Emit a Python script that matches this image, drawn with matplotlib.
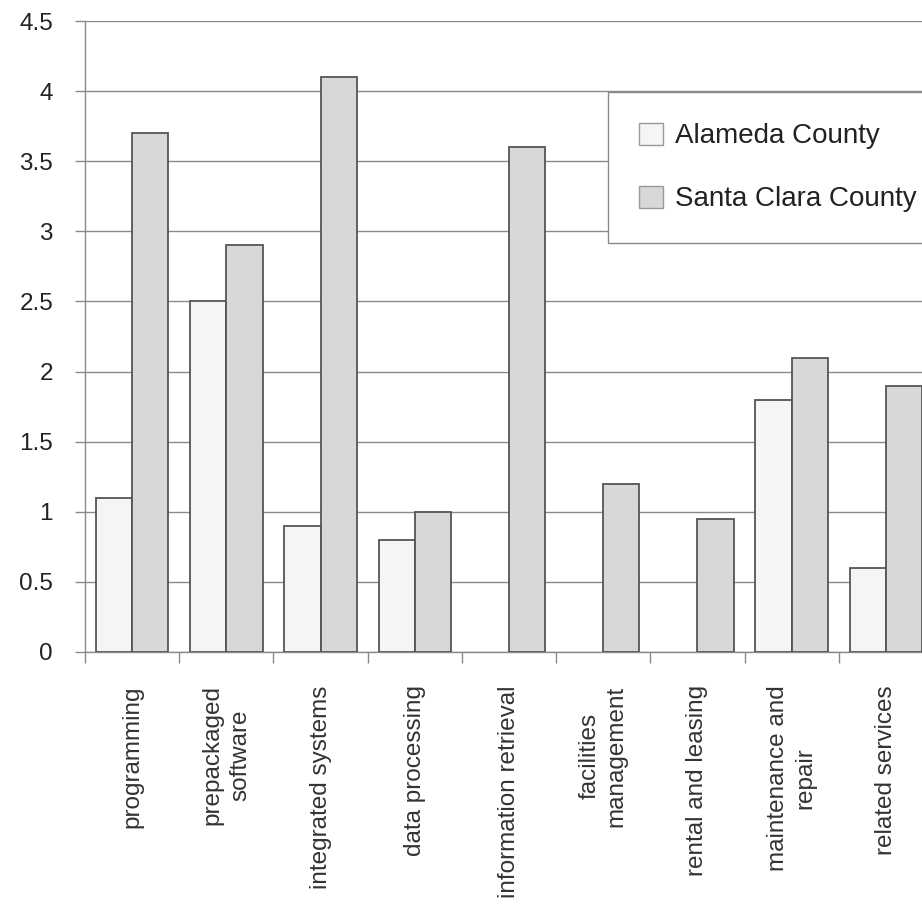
import matplotlib.pyplot as plt
from matplotlib.patches import Patch
import numpy as np

plt.rcParams['font.family'] = ['Liberation Sans', 'DejaVu Sans']

# Computer services employment by category, two counties
categories = ['programming', 'prepackaged\nsoftware', 'integrated systems',
              'data processing', 'information retrieval', 'facilities\nmanagement',
              'rental and leasing', 'maintenance and\nrepair', 'related services']
alameda = [1.1, 2.5, 0.9, 0.8, 0.0, 0.0, 0.0, 1.8, 0.6]
santa_clara = [3.7, 2.9, 4.1, 1.0, 3.6, 1.2, 0.95, 2.1, 1.9]
y_ticks = [0, 0.5, 1, 1.5, 2, 2.5, 3, 3.5, 4, 4.5]
y_tick_labels = ['0', '0.5', '1', '1.5', '2', '2.5', '3', '3.5', '4', '4.5']

W, H = 922, 910
fig = plt.figure(figsize=(W / 100, H / 100), dpi=100)
# plot area runs a little past the right edge of the canvas
ax = fig.add_axes([85 / W, 1 - 652 / H, 848 / W, 631 / H])

x = np.arange(len(categories))
bw = 0.385
edge = '#555555'
b1 = ax.bar(x - bw / 2, alameda, bw, color='#f5f5f5', edgecolor=edge,
            linewidth=1.3, zorder=3, label='Alameda County')
b2 = ax.bar(x + bw / 2, santa_clara, bw, color='#d8d8d8', edgecolor=edge,
            linewidth=1.3, zorder=3, label='Santa Clara County')
# empty categories show no outline along the axis
for bars, vals in ((b1, alameda), (b2, santa_clara)):
    for rect, v in zip(bars, vals):
        if v == 0:
            rect.set_linewidth(0)

ax.set_xlim(-0.5, len(categories) - 0.5)
ax.set_ylim(0, 4.5)

ax.set_yticks(y_ticks)
ax.set_yticklabels(y_tick_labels, fontsize=17.5, color='#222222')
ax.yaxis.grid(True, color='#8a8a8a', linewidth=1.0, zorder=0)
ax.tick_params(axis='y', direction='out', length=7, width=1.0,
               color='#8a8a8a', pad=16)

# category boundaries get tick marks, labels sit at the centres
ax.set_xticks(np.arange(len(categories) + 1) - 0.5)
ax.set_xticklabels([])
ax.tick_params(axis='x', which='major', direction='out', length=8,
               width=1.0, color='#8a8a8a')
ax.set_xticks(x, minor=True)
ax.set_xticklabels(categories, minor=True, rotation=90, fontsize=17.5,
                   color='#333333', va='top', ha='center', linespacing=1.3)
ax.tick_params(axis='x', which='minor', length=0, pad=24)

for side in ['top', 'right']:
    ax.spines[side].set_visible(False)
for side in ['left', 'bottom']:
    ax.spines[side].set_color('#8a8a8a')
    ax.spines[side].set_linewidth(1.0)

handles = [Patch(facecolor='#f5f5f5', edgecolor='#999999', label='Alameda County'),
           Patch(facecolor='#d8d8d8', edgecolor='#999999', label='Santa Clara County')]
leg = fig.legend(handles=handles, loc='upper left', mode='expand',
                 bbox_to_anchor=(608 / W, 1 - 238 / H, 400 / W, 146 / H),
                 fontsize=20, frameon=True, fancybox=False, shadow=False,
                 framealpha=1.0,
                 handlelength=0.87, handleheight=0.87, handletextpad=0.45,
                 labelspacing=1.3, borderpad=1.1, borderaxespad=0)
leg.get_frame().set_edgecolor('#8a8a8a')
leg.get_frame().set_linewidth(1.0)
for t in leg.get_texts():
    t.set_color('#222222')

fig.savefig('out.png', dpi=100, facecolor='white')
